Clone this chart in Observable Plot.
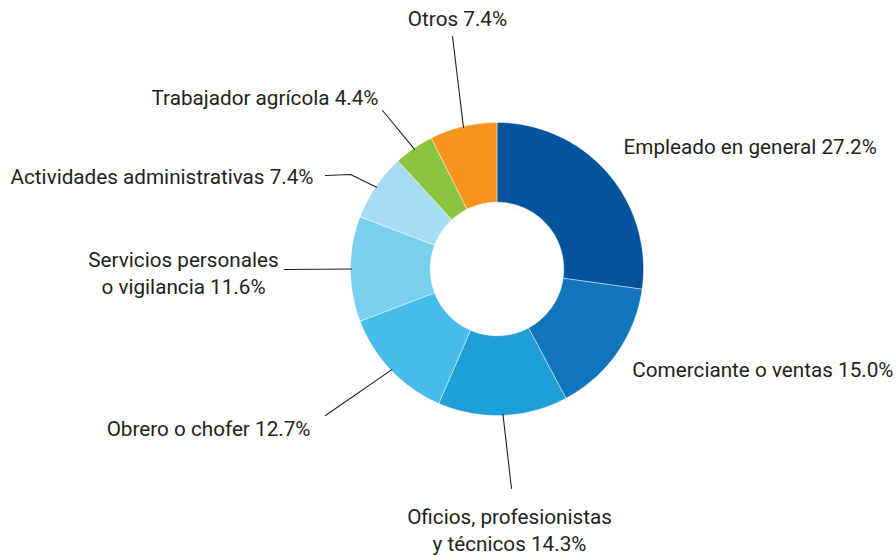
<!DOCTYPE html>
<html><head><meta charset="utf-8">
<script src="https://cdn.jsdelivr.net/npm/d3@7"></script>
<script src="https://cdn.jsdelivr.net/npm/@observablehq/plot@0.6"></script>
<style>html,body{margin:0;padding:0;background:#fff;overflow:hidden}</style>
</head><body><div id="chart"></div>
<script>
// ---- data ----
const categories = [
  "Empleado en general",
  "Comerciante o ventas",
  "Oficios, profesionistas\ny técnicos",
  "Obrero o chofer",
  "Servicios personales\no vigilancia",
  "Actividades administrativas",
  "Trabajador agrícola",
  "Otros"
];
const values = [27.2, 15.0, 14.3, 12.7, 11.6, 7.4, 4.4, 7.4];
const colors = ["#04539f", "#1175bc", "#1e9fd8", "#46bdea", "#78cff0", "#a7ddf3", "#8dc43f", "#f7941e"];

// ---- layout ----
const W = 896, H = 555;
const cx = 496.5, cy = 268.5, R = 146.5, r = 66.8;
const fontSize = 20.7;
const labelPos = [
  {x: 623, y: 145, anchor: "start"},
  {x: 893, y: 368, anchor: "end"},
  {x: 509, y: 528, anchor: "middle"},
  {x: 310, y: 427, anchor: "end"},
  {x: 183, y: 271, anchor: "middle"},
  {x: 313, y: 174.5, anchor: "end"},
  {x: 378, y: 96, anchor: "end"},
  {x: 457, y: 17, anchor: "middle"}
];
// leader line start points (label side), optional elbow
const leaderStarts = {
  2: [[511, 488]],
  3: [[325, 415]],
  4: [[284, 269]],
  5: [[325, 175], [350, 174]],
  6: [[382, 110]],
  7: [[452, 36]]
};

const total = d3.sum(values);
const cum = d3.cumsum(values);
const slices = values.map((v, i) => ({cat: categories[i], a0: (cum[i] - v) / total, a1: cum[i] / total}));
const pt = (frac, rad) => {
  const a = frac * 2 * Math.PI;
  return [cx + rad * Math.sin(a), cy - rad * Math.cos(a)];
};
const poly = [];
for (const s of slices) {
  const n = Math.max(8, Math.ceil((s.a1 - s.a0) * 360));
  const pts = [];
  for (let k = 0; k <= n; k++) pts.push(pt(s.a0 + (s.a1 - s.a0) * k / n, R));
  for (let k = n; k >= 0; k--) pts.push(pt(s.a0 + (s.a1 - s.a0) * k / n, r));
  pts.push(pts[0]);
  for (const [x, y] of pts) poly.push({x, y, cat: s.cat});
}

const leaders = [];
for (const [i, starts] of Object.entries(leaderStarts)) {
  const s = slices[+i];
  const end = pt((s.a0 + s.a1) / 2, R - 1);
  [...starts, end].forEach(([x, y]) => leaders.push({x, y, id: i}));
}

const labels = slices.map((s, i) => ({
  text: `${s.cat} ${values[i].toFixed(1)}%`,
  ...labelPos[i]
}));

const chart = Plot.plot({
  width: W, height: H,
  margin: 0,
  x: {domain: [0, W], range: [0, W], axis: null},
  y: {domain: [0, H], range: [0, H], axis: null},
  color: {domain: categories, range: colors},
  style: {fontFamily: "Roboto, 'Open Sans', sans-serif", background: "#fff"},
  marks: [
    Plot.line(poly, {x: "x", y: "y", z: "cat", fill: "cat", stroke: "#ffffff", strokeWidth: 0.6, strokeOpacity: 0.7, curve: "linear"}),
    Plot.line(leaders, {x: "x", y: "y", z: "id", stroke: "#231f20", strokeWidth: 1.1}),
    ...["start", "middle", "end"].map(a => Plot.text(labels.filter(d => d.anchor === a), {
      x: "x", y: "y", text: "text", textAnchor: a, lineAnchor: "middle",
      fontSize, lineHeight: 1.34, fill: "#231f20"
    }))
  ]
});
document.getElementById("chart").appendChild(chart);
</script>
</body></html>
